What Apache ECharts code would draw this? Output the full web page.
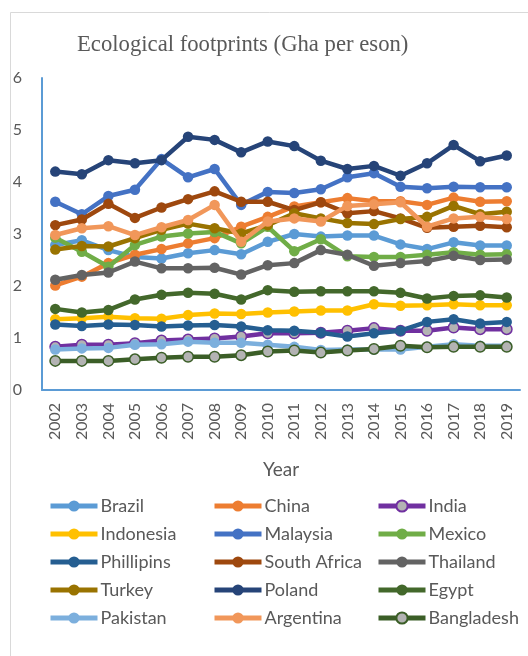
<!DOCTYPE html>
<html>
<head>
<meta charset="utf-8">
<style>
  html, body { margin: 0; padding: 0; background: #ffffff; }
  #chart { width: 528px; height: 656px; }
</style>
<script src="https://cdn.jsdelivr.net/npm/echarts@6/dist/echarts.min.js"></script>
</head>
<body>
<div id="chart"></div>
<script>
// Years on the category axis
const years = ['2002','2003','2004','2005','2006','2007','2008','2009','2010',
               '2011','2012','2013','2014','2015','2016','2017','2018','2019'];
const yTicks = [0, 1, 2, 3, 4, 5, 6];

// Ecological footprint per country (global hectares per person)
const brazil      = [2.79,2.88,2.69,2.56,2.53,2.63,2.69,2.61,2.85,3.00,2.95,2.97,2.97,2.80,2.71,2.84,2.78,2.78];
const china       = [2.01,2.18,2.44,2.60,2.71,2.82,2.92,3.14,3.33,3.53,3.61,3.69,3.63,3.63,3.56,3.70,3.62,3.63];
const india       = [0.83,0.87,0.87,0.90,0.95,0.97,0.99,1.03,1.09,1.09,1.10,1.14,1.19,1.14,1.14,1.20,1.17,1.17];
const indonesia   = [1.36,1.38,1.41,1.38,1.37,1.44,1.47,1.46,1.49,1.51,1.53,1.53,1.65,1.62,1.63,1.65,1.63,1.63];
const malaysia    = [3.62,3.38,3.73,3.85,4.44,4.09,4.25,3.56,3.81,3.79,3.86,4.09,4.17,3.91,3.88,3.91,3.90,3.90];
const mexico      = [2.93,2.66,2.37,2.79,2.95,3.01,3.04,2.82,3.14,2.67,2.90,2.57,2.56,2.56,2.60,2.65,2.60,2.61];
const phillipins  = [1.26,1.23,1.26,1.25,1.22,1.24,1.25,1.22,1.15,1.14,1.10,1.03,1.09,1.14,1.31,1.36,1.28,1.31];
const southAfrica = [3.17,3.28,3.58,3.31,3.51,3.67,3.82,3.62,3.62,3.46,3.61,3.40,3.44,3.30,3.12,3.14,3.16,3.13];
const thailand    = [2.12,2.21,2.26,2.47,2.34,2.34,2.35,2.22,2.40,2.44,2.69,2.60,2.39,2.44,2.48,2.58,2.50,2.51];
const turkey      = [2.70,2.77,2.76,2.92,3.08,3.20,3.11,3.01,3.17,3.40,3.30,3.21,3.19,3.29,3.33,3.54,3.38,3.43];
const poland      = [4.20,4.15,4.42,4.36,4.42,4.87,4.81,4.57,4.78,4.69,4.41,4.25,4.31,4.12,4.36,4.71,4.40,4.51];
const egypt       = [1.56,1.49,1.54,1.74,1.83,1.87,1.85,1.74,1.92,1.89,1.90,1.90,1.90,1.87,1.76,1.81,1.82,1.78];
const pakistan    = [0.78,0.80,0.81,0.87,0.88,0.93,0.91,0.91,0.87,0.83,0.77,0.78,0.78,0.78,0.83,0.88,0.85,0.85];
const argentina   = [2.98,3.11,3.15,2.98,3.13,3.27,3.56,2.85,3.24,3.30,3.24,3.54,3.57,3.61,3.14,3.30,3.33,3.29];
const bangladesh  = [0.56,0.56,0.56,0.59,0.62,0.64,0.64,0.67,0.74,0.76,0.72,0.76,0.79,0.85,0.82,0.83,0.83,0.83];

const countries = ['Brazil','China','India','Indonesia','Malaysia','Mexico','Phillipins','South Africa',
                   'Thailand','Turkey','Poland','Egypt','Pakistan','Argentina','Bangladesh'];
const values = [brazil, china, india, indonesia, malaysia, mexico, phillipins, southAfrica,
                thailand, turkey, poland, egypt, pakistan, argentina, bangladesh];
const lineColors = ['#5B9BD5','#ED7D31','#7030A0','#FFC000','#4472C4','#70AD47','#255E91','#9E480E',
                    '#636363','#997300','#264478','#43682B','#7CAFDD','#F1975A','#3B5E27'];
// India and Bangladesh use grey markers with a coloured rim
const markerFill = ['','', '#B3B3B3','','','','','','','','','','','', '#B3B3B3'];

const textColor = '#595959';
const sansFont = 'Lato';

const series = countries.map((name, i) => ({
  name: name,
  type: 'line',
  data: values[i],
  symbol: 'circle',
  symbolSize: 10.5,
  smooth: false,
  lineStyle: { color: lineColors[i], width: 4.5 },
  itemStyle: markerFill[i]
    ? { color: markerFill[i], borderColor: lineColors[i], borderWidth: 1.5 }
    : { color: lineColors[i], borderWidth: 0 },
  emphasis: { disabled: true },
  z: 2 + i * 0.01
}));

function legendColumn(names, left) {
  return {
    data: names,
    orient: 'vertical',
    left: left,
    top: 496,
    itemWidth: 47,
    itemHeight: 14,
    itemGap: 8,
    padding: 0,
    selectedMode: false,
    lineStyle: { width: 5, inactiveWidth: 5 },
    textStyle: { color: textColor, fontFamily: sansFont, fontSize: 18, lineHeight: 20, padding: [0, 0, 0, -2] }
  };
}

const chart = echarts.init(document.getElementById('chart'), null, { renderer: 'canvas' });
chart.setOption({
  animation: false,
  backgroundColor: '#ffffff',
  title: {
    text: 'Ecological footprints (Gha per eson)',
    left: 77,
    top: 34,
    padding: 0,
    textStyle: { fontFamily: 'Liberation Serif', fontSize: 22.7, fontWeight: 'normal', color: textColor }
  },
  graphic: [{
    type: 'rect',
    shape: { x: 10.5, y: 12.5, width: 600, height: 700 },
    style: { fill: 'none', stroke: '#D9D9D9', lineWidth: 1 },
    silent: true
  }],
  legend: [
    legendColumn(countries.filter((_, i) => i % 3 === 0), 48),
    legendColumn(countries.filter((_, i) => i % 3 === 1), 212),
    legendColumn(countries.filter((_, i) => i % 3 === 2), 376)
  ],
  grid: { left: 42, right: 8, top: 78, bottom: 266, containLabel: false },
  xAxis: {
    type: 'category',
    data: years,
    boundaryGap: true,
    name: 'Year',
    nameLocation: 'middle',
    nameGap: 70,
    nameTextStyle: { color: textColor, fontFamily: sansFont, fontSize: 19 },
    axisLine: { show: true, lineStyle: { color: '#5B9BD5', width: 2 } },
    axisTick: { show: false },
    axisLabel: { rotate: 90, margin: 13, color: textColor, fontFamily: sansFont, fontSize: 16, interval: 0 },
    splitLine: { show: false }
  },
  yAxis: {
    type: 'value',
    min: yTicks[0],
    max: yTicks[yTicks.length - 1],
    interval: 1,
    axisLine: { show: true, lineStyle: { color: '#5B9BD5', width: 2 } },
    axisTick: { show: false },
    axisLabel: { margin: 20, color: textColor, fontFamily: sansFont, fontSize: 16 },
    splitLine: { show: false }
  },
  series: series
});
</script>
</body>
</html>
